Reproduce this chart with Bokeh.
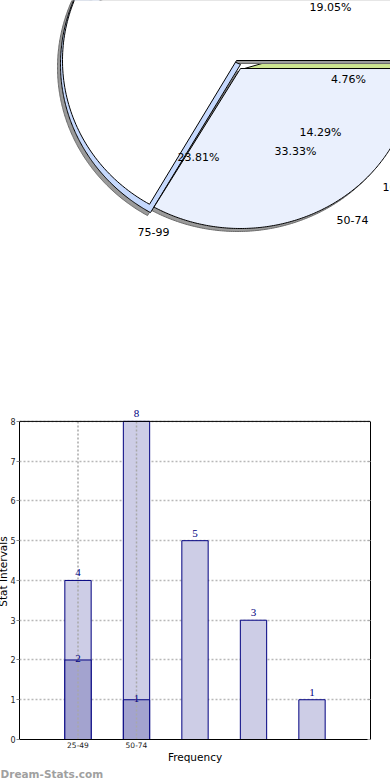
import numpy as np
from bokeh.plotting import figure
from bokeh.models import (Range1d, ColumnDataSource, LabelSet, FixedTicker, Span,
                          LinearAxis, Title)
from bokeh.layouts import column
from bokeh.embed import file_html
from bokeh.resources import INLINE
from bokeh.core.properties import value

# ---------------- data ----------------
pie_names = ["50-74", "100-124", "125-149", "25-49", "150-174", "75-99"]
pie_pct = [33.33, 4.76, 14.29, 19.05, 4.76, 23.81]
pie_pct_text = ["19.05%", "4.76%", "14.29%", "33.33%", "23.81%"]
pie_cat_text = ["75-99", "50-74", "100-124"]

bar_x = [1, 2, 3, 4, 5]
bar_totals = [4, 8, 5, 3, 1]
sub_x = [1, 2]
sub_vals = [2, 1]
x_tick_pos = [1, 2]
x_tick_labels = ["25-49", "50-74"]
y_ticks = [0, 1, 2, 3, 4, 5, 6, 7, 8]

FONT = "DejaVu Sans"
SHIFT = 8   # the layout is pulled 8px to the left so the y-axis title can sit at the page edge

# ---------------- pie ----------------
H1 = 400
W = 390 + SHIFT
p1 = figure(width=W, height=H1, x_range=Range1d(-SHIFT, 390), y_range=Range1d(0, H1),
            output_backend="svg", toolbar_location=None, min_border=0,
            x_axis_location=None, y_axis_location=None)
p1.grid.visible = False
p1.outline_line_color = None

pct = np.array(pie_pct)
ang = np.deg2rad(240 + 360 * np.concatenate([[0], np.cumsum(pct)]) / pct.sum())
starts, ends = ang[:-1], ang[1:]


def ell_wedge(cx, cy, rx, ry, a0, a1):
    """elliptical wedge (page px centre, y down) -> data coordinates"""
    t = np.linspace(a0, a1, 200)
    xs = np.concatenate([[cx], cx + rx * np.cos(t), [cx]])
    ys = np.concatenate([[cy], cy - ry * np.sin(t), [cy]])
    return list(xs), list(H1 - ys)


SH = (-3, 3)
shadow = dict(fill_color="#9a9a9a", line_color="#6a6a6a", line_width=1)
face = dict(line_color="black", line_width=1)

top_a = (ends[0], starts[0] + 2 * np.pi)       # every slice except 50-74
g_a = (starts[1], ends[1])                      # thin green slice
lb_a = (starts[5], ends[5])                     # 75-99
s0_a = (starts[0], ends[0])                     # 50-74

geo_green = (244, 68, 172, 160)
geo_top = (236, 60, 174, 166)
geo_lb = (240, 64, 180, 171)
geo_s0 = (240, 68, 173, 160)


def draw(geo, a, dx=0, dy=0, **kw):
    cx, cy, rx, ry = geo
    xs, ys = ell_wedge(cx + dx, cy + dy, rx, ry, *a)
    p1.patch(xs, ys, **kw)


draw(geo_green, g_a, fill_color="#cde590", **face)
draw(geo_top, top_a, *SH, **shadow)
draw(geo_s0, s0_a, *SH, **shadow)
draw(geo_lb, lb_a, *SH, **shadow)
draw(geo_lb, lb_a, fill_color="#c6d9fd", **face)
draw(geo_top, top_a, fill_color="white", **face)
draw(geo_s0, s0_a, fill_color="#eaf0fd", **face)

pct_pos = [(330, 7), (348, 79), (320, 132), (295, 151), (198, 157)]
cat_pos = [(153, 231), (352, 219), (405, 186)]
pie_src = ColumnDataSource(dict(
    x=[p[0] for p in pct_pos + cat_pos],
    y=[H1 - p[1] for p in pct_pos + cat_pos],
    t=pie_pct_text + pie_cat_text))
p1.text(x="x", y="y", text="t", source=pie_src, text_align="center", text_baseline="middle",
        text_font=value(FONT), text_font_size="11px", text_color="black")

# ---------------- bars ----------------
ytop = max(y_ticks)
p2 = figure(width=W, height=380, x_range=Range1d(0, 6), y_range=Range1d(0, ytop + 0.45),
            output_backend="svg", toolbar_location=None,
            min_border_left=19 + SHIFT, min_border_right=20, min_border_top=3,
            min_border_bottom=40)
try:
    p1.frame_align = False
    p2.frame_align = False
except Exception:
    pass

p2.ygrid.grid_line_color = "#b8b8b8"
p2.ygrid.grid_line_dash = "2 2"
p2.ygrid.grid_line_width = 1.5
p2.xgrid.visible = False

p2.vbar(x=bar_x, top=bar_totals, width=0.45, fill_color="#cdcde6", line_color="#000080", line_width=1)
p2.vbar(x=sub_x, top=sub_vals, width=0.45, fill_color="#a3a3cf", line_color="#000080", line_width=1)
# vertical grid lines at the labelled categories, drawn over the bars
p2.segment(x0=x_tick_pos, y0=[0] * len(x_tick_pos), x1=x_tick_pos, y1=[ytop] * len(x_tick_pos),
           line_color="#a8a8a8", line_dash="2 2", line_width=1.5)

p2.outline_line_color = None
p2.add_layout(Span(location=ytop, dimension="width", line_color="black", line_width=1))
rax = LinearAxis(ticker=FixedTicker(ticks=y_ticks), bounds=(0, ytop), axis_line_color="black",
                 major_tick_in=3, major_tick_out=0, major_tick_line_color="#aaaaaa",
                 minor_tick_line_color=None, major_label_text_color=None,
                 major_label_text_font_size="1px", major_label_standoff=0)
p2.add_layout(rax, "right")

yax = p2.yaxis[0]
xax = p2.xaxis[0]
yax.ticker = FixedTicker(ticks=y_ticks)
yax.bounds = (0, ytop)
xax.ticker = FixedTicker(ticks=x_tick_pos)
xax.major_label_overrides = {k: v for k, v in zip(x_tick_pos, x_tick_labels)}
xax.axis_label = "Frequency"
yax.axis_label = "Stat Intervals"
for ax in (xax, yax):
    ax.axis_line_color = "black"
    ax.minor_tick_line_color = None
    ax.major_label_text_font = FONT
    ax.axis_label_text_font = FONT
    ax.axis_label_text_font_style = "normal"
    ax.axis_label_text_font_size = "10.5px"
    ax.axis_label_text_color = "black"
    ax.major_label_text_color = "#222222"
xax.major_tick_line_color = None
xax.major_tick_out = 0
xax.major_tick_in = 0
xax.major_label_text_font_size = "7.5px"
xax.major_label_standoff = 2
xax.axis_label_standoff = 0
yax.major_label_text_font_size = "8px"
yax.major_tick_out = 3
yax.major_tick_in = 0
yax.major_tick_line_color = "#888888"
yax.major_label_standoff = 1
yax.axis_label_standoff = -2

tot_src = ColumnDataSource(dict(x=bar_x, y=bar_totals, t=[str(v) for v in bar_totals]))
sub_src = ColumnDataSource(dict(x=sub_x, y=sub_vals, t=[str(v) for v in sub_vals]))
p2.add_layout(LabelSet(x="x", y="y", text="t", source=tot_src, text_align="center",
                       text_baseline="bottom", y_offset=4, text_font=FONT,
                       text_font_size="11px", text_color="#000080"))
p2.add_layout(LabelSet(x="x", y="y", text="t", source=sub_src, text_align="center",
                       text_baseline="middle", y_offset=1, text_font=FONT,
                       text_font_size="11px", text_color="#000080"))
p2.add_layout(Title(text="Dream-Stats.com", align="left", offset=-19, standoff=1,
                    text_font=FONT, text_font_size="10.5px", text_font_style="bold",
                    text_color="#a0a0a0"), "below")

layout = column(p1, p2, spacing=0, styles={"margin-left": f"-{SHIFT}px"})

p = layout
open("out.html", "w").write(file_html(p, INLINE))
